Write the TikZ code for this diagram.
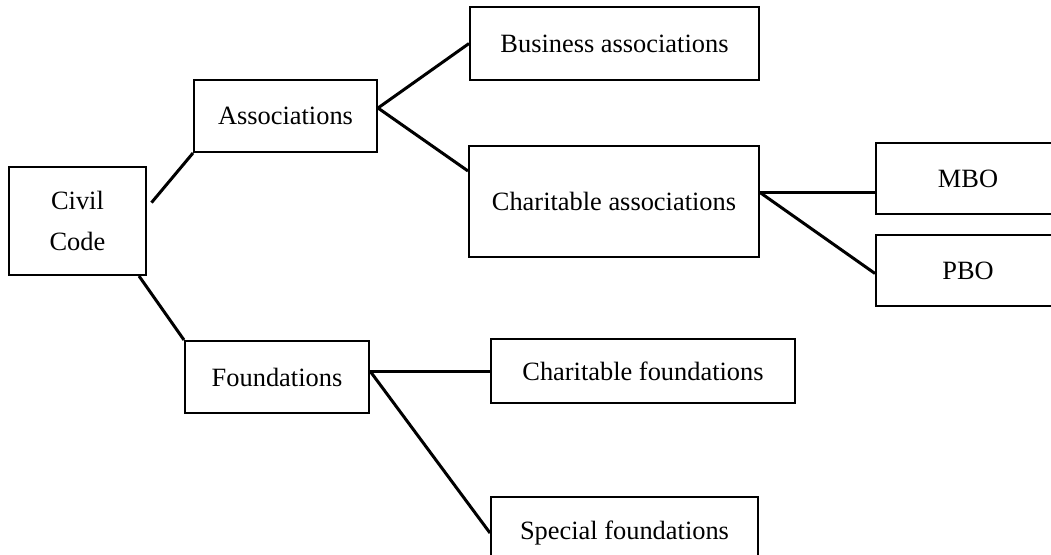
\documentclass[tikz,border=0pt]{standalone}
\usepackage{fontspec}
\setmainfont{Liberation Serif}
\usepackage{tikz}

\begin{document}
\begin{tikzpicture}[x=1pt,y=-1pt,
	box/.style={rectangle,draw,line width=2pt,inner sep=0pt,align=center,font=\fontsize{26.4}{41}\selectfont},
	link/.style={line width=3pt}]

		\useasboundingbox (0, 0) rectangle (1051, 554);

		\node[box,minimum width=137,minimum height=108] (civil) at (77.5, 221) {Civil\\Code};
		\node[box,minimum width=183,minimum height=72] (assoc) at (285.5, 116) {Associations};
		\node[box,minimum width=184,minimum height=72] (found) at (277, 377) {Foundations};
		\node[box,minimum width=289,minimum height=73] (business) at (614.5, 43.5) {Business associations};
		\node[box,minimum width=290,minimum height=111] (charass) at (614, 201.5) {Charitable associations};
		\node[box,minimum width=184,minimum height=71] (mbo) at (968, 178.5) {MBO};
		\node[box,minimum width=184,minimum height=71] (pbo) at (968, 270.5) {PBO};
		\node[box,minimum width=304,minimum height=64] (chf) at (643, 371) {Charitable foundations};
		\node[box,minimum width=267,minimum height=72] (spf) at (624.5, 533) {Special foundations};

		\coordinate (asc) at ([yshift=8pt]assoc.east);
		\coordinate (ca) at ([yshift=9pt]charass.east);
		\coordinate (fo) at (found.east |- chf.west);

		\draw[link,shorten <=7pt] ([yshift=13pt]civil.east) -- (assoc.south west);
		\draw[link] ([xshift=-8pt]civil.south east) -- (found.north west);
		\draw[link] (asc) -- (business.west);
		\draw[link] (asc) -- ([yshift=-26pt]charass.north west);
		\draw[link] (ca) -- (ca -| mbo.west);
		\draw[link] (ca) -- ([yshift=-3pt]pbo.west);
		\draw[link] (fo) -- (chf.west);
		\draw[link] (fo) -- (spf.west);

	\end{tikzpicture}
\end{document}
